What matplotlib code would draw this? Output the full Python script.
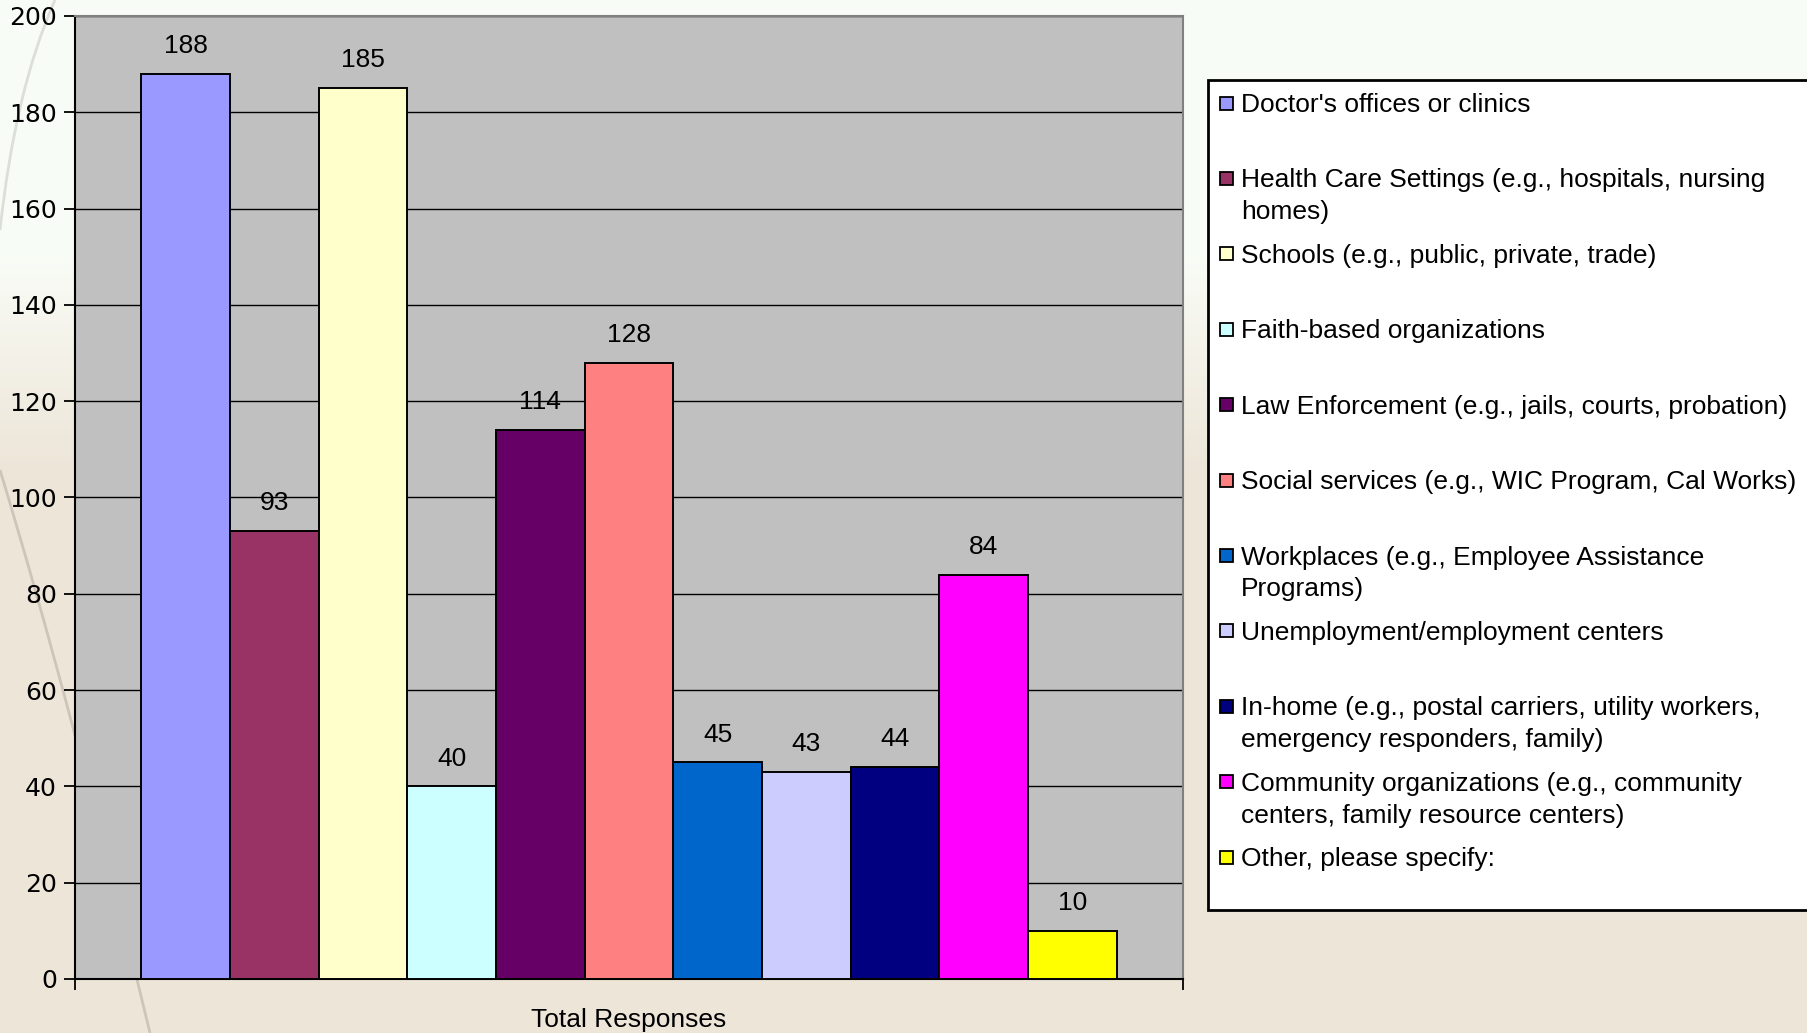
import matplotlib
matplotlib.use("Agg")
import matplotlib.pyplot as plt
import numpy as np
from matplotlib.patches import Rectangle
from matplotlib.path import Path
from matplotlib.patches import PathPatch

categories = [
    "Doctor's offices or clinics",
    "Health Care Settings (e.g., hospitals, nursing\nhomes)",
    "Schools (e.g., public, private, trade)",
    "Faith-based organizations",
    "Law Enforcement (e.g., jails, courts, probation)",
    "Social services (e.g., WIC Program, Cal Works)",
    "Workplaces (e.g., Employee Assistance\nPrograms)",
    "Unemployment/employment centers",
    "In-home (e.g., postal carriers, utility workers,\nemergency responders, family)",
    "Community organizations (e.g., community\ncenters, family resource centers)",
    "Other, please specify:",
]
values = [188, 93, 185, 40, 114, 128, 45, 43, 44, 84, 10]
colors = ["#9999FF", "#993366", "#FFFFCC", "#CCFFFF", "#660066", "#FF8080",
          "#0066CC", "#CCCCFF", "#000080", "#FF00FF", "#FFFF00"]
yticks = list(range(0, 201, 20))
xlabel = "Total Responses"

W, H = 1808, 1033
fig = plt.figure(figsize=(W / 100, H / 100), dpi=100)

def fx(px):
    return px / W

def fy(py):
    return 1 - py / H

# background (slide style): pale top fading to beige
bg = fig.add_axes([0, 0, 1, 1], zorder=-10)
top = np.array([0.975, 0.99, 0.965])
bot = np.array([0.93, 0.90, 0.85])
t = np.clip((np.linspace(0, 1, 200) - 0.25) / 0.2, 0, 1)[:, None]
grad = top * (1 - t) + bot * t
bg.imshow(grad[:, None, :], aspect="auto", extent=[0, 1, 0, 1])
curve = Path([(fx(0), fy(470)), (fx(70), fy(700)), (fx(150), fy(1033))],
             [Path.MOVETO, Path.CURVE3, Path.CURVE3])
bg.add_patch(PathPatch(curve, fill=False, edgecolor="#b8b0a4", lw=2, alpha=0.6))
curve2 = Path([(fx(55), fy(0)), (fx(15), fy(90)), (fx(0), fy(230))],
              [Path.MOVETO, Path.CURVE3, Path.CURVE3])
bg.add_patch(PathPatch(curve2, fill=False, edgecolor="#c8ccc4", lw=2, alpha=0.6))
bg.set_xlim(0, 1)
bg.set_ylim(0, 1)
bg.axis("off")

# plot area
ax = fig.add_axes([fx(75), fy(979), fx(1183) - fx(75), fy(16) - fy(979)])
ax.set_facecolor("#C0C0C0")
x = np.arange(len(values))
ax.bar(x, values, width=1.0, color=colors, edgecolor="black", linewidth=1.4, zorder=3)
for xi, v in zip(x, values):
    ax.annotate(str(v), (xi, v), xytext=(0, 20), textcoords="offset points",
                ha="center", va="center", fontsize=19, family="Liberation Sans")

ax.set_xlim(-1.25, len(values) + 0.25)
ax.set_ylim(0, 200)
ax.set_yticks(yticks)
ax.yaxis.grid(True, color="black", linewidth=1.0, zorder=1)
ax.set_axisbelow(True)
ax.tick_params(axis="y", direction="out", length=8, width=1.3, labelsize=18, pad=5)
for lab in ax.get_yticklabels():
    lab.set_family("DejaVu Sans")

ax.set_xticks([(len(values) - 1) / 2])
ax.set_xticklabels([xlabel], fontsize=19, family="Liberation Sans")
ax.tick_params(axis="x", length=0, pad=21)
ax.set_xticks([-1.25, len(values) + 0.25], minor=True)
ax.tick_params(axis="x", which="minor", direction="out", length=8, width=1.3)

ax.spines["left"].set_linewidth(1.5)
ax.spines["bottom"].set_linewidth(1.5)
ax.spines["top"].set_color("#808080")
ax.spines["right"].set_color("#808080")
ax.spines["top"].set_linewidth(1.5)
ax.spines["right"].set_linewidth(1.5)

# legend box drawn by hand (runs off the right edge like the original)
fig.patches.append(Rectangle((fx(1208), fy(910)), fx(1830) - fx(1208), fy(80) - fy(910),
                             transform=fig.transFigure, facecolor="white",
                             edgecolor="black", linewidth=2, zorder=5))
slot = 75.4
for i, (lab, c) in enumerate(zip(categories, colors)):
    yc = 102.6 + i * slot
    fig.patches.append(Rectangle((fx(1220), fy(yc + 7)), fx(13), 13 / H,
                                 transform=fig.transFigure, facecolor=c,
                                 edgecolor="black", linewidth=1.3, zorder=6))
    fig.text(fx(1241), fy(yc - 9.5), lab, ha="left", va="top", fontsize=19,
             family="Liberation Sans", linespacing=1.42, zorder=7)

fig.savefig("out.png", dpi=100)
